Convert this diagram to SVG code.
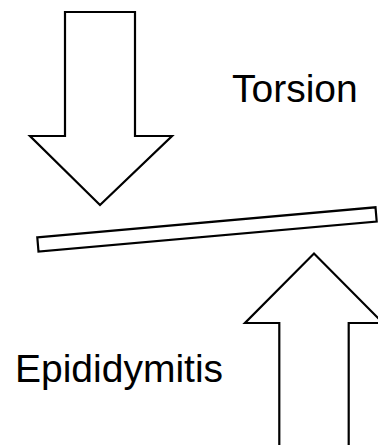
<svg xmlns="http://www.w3.org/2000/svg" width="378" height="445" viewBox="0 0 378 445">
<style>
.shape{fill:#fff;stroke:#000;stroke-width:2.2;stroke-linejoin:miter}
.lbl{font-family:"Liberation Sans",Arial,sans-serif;font-size:39px;fill:#000}
</style>
<rect width="378" height="445" fill="#fff"/>
<g id="torsion-arrow">
<polygon class="shape" points="65,12 135,12 135,136 172,136 100,205 30,136 65,136"/>
</g>
<g id="bar">
<polygon class="shape" points="37.3,237.3 375.5,207.3 376.7,221.5 38.5,251.5"/>
</g>
<g id="epididymitis-arrow">
<polygon class="shape" points="279.3,446 279.3,323 245,323 314,253.5 383,323 348.7,323 348.7,446"/>
</g>
<g id="labels">
<text class="lbl" x="232" y="102">Torsion</text>
<text class="lbl" x="15" y="382">Epididymitis</text>
</g>
<g id="connectors"/>
</svg>
